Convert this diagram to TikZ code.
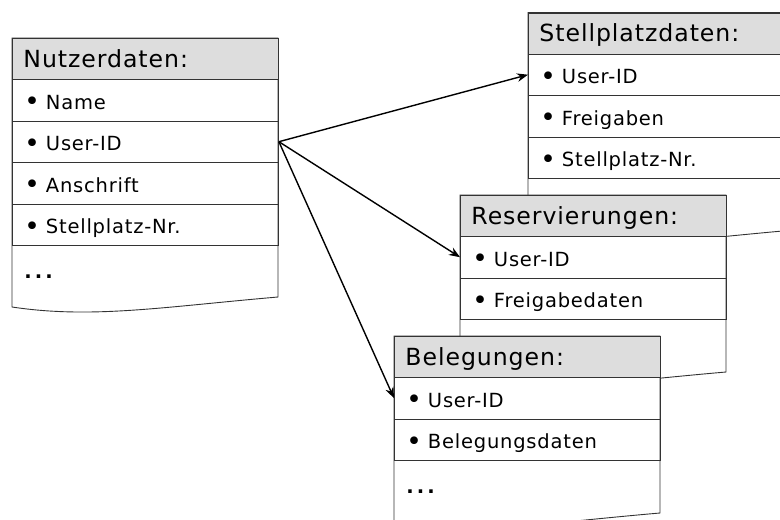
\documentclass[tikz,border=0pt]{standalone}
\usepackage{fontspec}
\setmainfont{DejaVu Sans}[LetterSpace=4]
\usetikzlibrary{arrows.meta}

% list marks and the trailing dots of a table
\newcommand{\rowmark}{\raisebox{-1.3pt}{\scalebox{1.35}{\textbullet}}\hspace{6pt}}
\newcommand{\moredots}{{\bfseries .\hspace{3pt}.\hspace{3pt}.}}

\begin{document}
\begin{tikzpicture}[
    x=1pt, y=-1pt,
    line width=0.9pt,
    headbox/.style={rectangle, draw=black!80, fill=gray!27, anchor=north west,
      minimum width=266pt, minimum height=41pt, inner xsep=11pt, text width=244pt,
      align=left, text height=17pt, text depth=0pt, font=\fontsize{23.6}{26}\selectfont},
    rowbox/.style={rectangle, draw=black!80, anchor=north west,
      minimum width=266pt, minimum height=41.5pt, inner xsep=12pt, text width=242pt,
      align=left, text height=18.5pt, text depth=0pt, font=\fontsize{19.5}{22}\selectfont},
    dotrow/.style={rowbox, draw=none, text height=24pt},
    docbody/.style={draw=black!80, fill=white},
    link/.style={-{Stealth[length=11pt, width=8.5pt]}, line width=1.4pt},
]
    \clip (0,0) rectangle (780,520);

    % Stellplatzdaten (drawn first, the others lie on top)
    \draw[docbody] (528,12.5) -- (794,12.5) -- (794,230)
      .. controls (678,240) and (608,252) .. (528,240) -- cycle;
    \node[headbox] (stell) at (528,12.5) {Stellplatzdaten:};
    \foreach \entry [count=\i] in {User-ID, Freigaben, Stellplatz-Nr.}
      \node[rowbox] (stell-\i) at (528,{53.5+41.5*(\i-1)}) {\rowmark\entry};

    % Reservierungen
    \draw[docbody] (460,195) -- (726,195) -- (726,372)
      .. controls (610,382) and (540,394) .. (460,382) -- cycle;
    \node[headbox] (res) at (460,195) {Reservierungen:};
    \foreach \entry [count=\i] in {User-ID, Freigabedaten}
      \node[rowbox] (res-\i) at (460,{236+41.5*(\i-1)}) {\rowmark\entry};

    % Belegungen
    \draw[docbody] (394,336) -- (660,336) -- (660,513)
      .. controls (544,523) and (474,535) .. (394,523) -- cycle;
    \node[headbox] (bel) at (394,336) {Belegungen:};
    \foreach \entry [count=\i] in {User-ID, Belegungsdaten}
      \node[rowbox] (bel-\i) at (394,{377+41.5*(\i-1)}) {\rowmark\entry};
    \node[dotrow] (bel-more) at (394,460) {\moredots};

    % Nutzerdaten
    \draw[docbody] (12,38) -- (278,38) -- (278,297)
      .. controls (162,307) and (92,319) .. (12,307) -- cycle;
    \node[headbox] (nutz) at (12,38) {Nutzerdaten:};
    \foreach \entry [count=\i] in {Name, User-ID, Anschrift, Stellplatz-Nr.}
      \node[rowbox] (nutz-\i) at (12,{79+41.5*(\i-1)}) {\rowmark\entry};
    \node[dotrow] (nutz-more) at (12,245) {\moredots};

    % User-ID links
    \draw[link] (nutz-2.east) -- (stell-1.west);
    \draw[link] (nutz-2.east) -- (res-1.west);
    \draw[link] (nutz-2.east) -- (bel-1.west);
\end{tikzpicture}
\end{document}
